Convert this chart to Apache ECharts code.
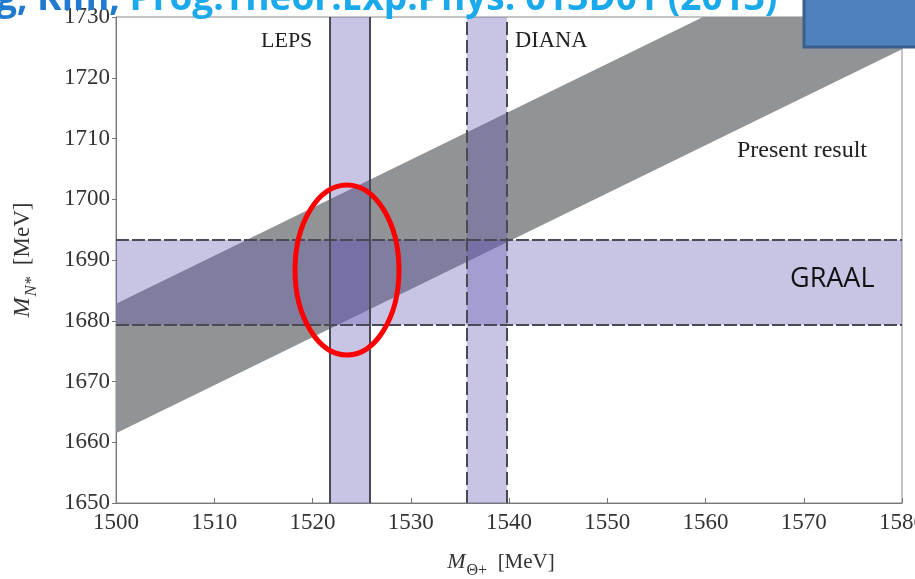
<!DOCTYPE html>
<html>
<head>
<meta charset="utf-8" />
<title>Theta+ vs N* mass</title>
<script src="https://cdn.jsdelivr.net/npm/echarts@6/dist/echarts.min.js"></script>
<style>
  html, body { margin: 0; padding: 0; background: #fff; }
  #main { width: 915px; height: 579px; }
</style>
</head>
<body>
<div id="main"></div>
<script>
// axis ranges (MeV)
var xRange = [1500, 1580];
var yRange = [1650, 1730];
// experimental bands (MeV)
var lepsBand = [1521.8, 1525.8];
var dianaBand = [1535.7, 1539.8];
var graalBand = [1679.3, 1693.3];
// present result: lower / upper edge of the grey band at both ends of the x range
var presentX = [1500, 1580];
var presentLow = [1661.5, 1724.7];
var presentHigh = [1682.8, 1746.0];

var serif = 'Liberation Serif';
var chart = echarts.init(document.getElementById('main'));

// grey band polygon, clipped to the grid
function presentItem(params, api) {
  var pts = [
    api.coord([presentX[0], presentLow[0]]),
    api.coord([presentX[1], presentLow[1]]),
    api.coord([presentX[1], presentHigh[1]]),
    api.coord([presentX[0], presentHigh[0]])
  ];
  var cs = params.coordSys;
  return {
    type: 'group',
    clipPath: { type: 'rect', shape: { x: cs.x, y: cs.y, width: cs.width, height: cs.height } },
    children: [{ type: 'polygon', shape: { points: pts }, style: { fill: 'rgb(145,148,150)' } }]
  };
}

// lavender bands, semi transparent so overlaps darken
function bandItem(params, api) {
  var kind = api.value(0);
  var a = api.value(1), b = api.value(2);
  var p0, p1;
  if (kind === 0) {
    p0 = api.coord([a, yRange[1]]);
    p1 = api.coord([b, yRange[0]]);
  } else {
    p0 = api.coord([xRange[0], b]);
    p1 = api.coord([xRange[1], a]);
  }
  return {
    type: 'rect',
    shape: { x: p0[0], y: p0[1], width: p1[0] - p0[0], height: p1[1] - p0[1] },
    style: { fill: 'rgba(98,87,178,0.35)' }
  };
}

function vLine(x, dashed) {
  return [{ coord: [x, yRange[0]], lineStyle: { type: dashed ? [13, 5] : 'solid' } },
          { coord: [x, yRange[1]] }];
}
function hLine(y) {
  return [{ coord: [xRange[0], y], lineStyle: { type: [13, 3] } }, { coord: [xRange[1], y] }];
}

function plain(v) { return String(v); }

var option = {
  backgroundColor: '#fff',
  animation: false,
  grid: {
    left: 116, right: 13, top: 17, bottom: 76, containLabel: false, outerBoundsMode: 'none',
    show: true, borderColor: '#8a8a8a', borderWidth: 1, backgroundColor: 'transparent'
  },
  xAxis: {
    type: 'value', min: xRange[0], max: xRange[1], interval: 10,
    axisLine: { lineStyle: { color: '#777' } },
    axisTick: { inside: true, length: 5, lineStyle: { color: '#777' } },
    splitLine: { show: false },
    axisLabel: { fontFamily: serif, fontSize: 23, color: '#333', margin: 8, formatter: plain, hideOverlap: false },
    name: '{i|M}{s|Θ+}  [MeV]', nameLocation: 'middle', nameGap: 42,
    nameTextStyle: {
      fontFamily: serif, fontSize: 21, color: '#333', padding: [0, 16, 0, 0],
      rich: {
        i: { fontFamily: serif, fontStyle: 'italic', fontSize: 22, color: '#333' },
        s: { fontFamily: serif, fontSize: 16, color: '#333', padding: [18, 0, 0, 1] }
      }
    }
  },
  yAxis: {
    type: 'value', min: yRange[0], max: yRange[1], interval: 10,
    axisLine: { show: true, lineStyle: { color: '#777' } },
    axisTick: { show: true, length: 4, lineStyle: { color: '#777' } },
    splitLine: { show: false },
    axisLabel: { fontFamily: serif, fontSize: 23, color: '#333', margin: 6, formatter: plain },
    name: '{i|M}{s|N*}  [MeV]', nameLocation: 'middle', nameGap: 76, nameRotate: 90,
    nameTextStyle: {
      fontFamily: serif, fontSize: 23, color: '#333',
      rich: {
        i: { fontFamily: serif, fontStyle: 'italic', fontSize: 24, color: '#333' },
        s: { fontFamily: serif, fontStyle: 'italic', fontSize: 17, color: '#333', padding: [18, 0, 0, 1] }
      }
    }
  },
  series: [
    {
      type: 'custom', renderItem: presentItem, silent: true, data: [[0]], z: 2
    },
    {
      type: 'custom', renderItem: bandItem, silent: true,
      data: [[0, lepsBand[0], lepsBand[1]], [0, dianaBand[0], dianaBand[1]], [1, graalBand[0], graalBand[1]]],
      z: 3
    },
    {
      type: 'line', data: [], silent: true, z: 4,
      markLine: {
        silent: true, symbol: 'none', animation: false,
        label: { show: false },
        lineStyle: { color: '#4a4a55', width: 2, opacity: 1 },
        data: [
          vLine(lepsBand[0], false), vLine(lepsBand[1], false),
          vLine(dianaBand[0], true), vLine(dianaBand[1], true),
          hLine(graalBand[0]), hLine(graalBand[1])
        ]
      }
    }
  ],
  graphic: [
    { type: 'text', left: 261, top: 30, z: 100, style: { text: 'LEPS', font: '22px "Liberation Serif"', fill: '#222' } },
    { type: 'text', left: 515, top: 30, z: 100, style: { text: 'DIANA', font: '22.5px "Liberation Serif"', fill: '#222' } },
    { type: 'text', left: 737, top: 139, z: 100, style: { text: 'Present result', font: '24px "Liberation Serif"', fill: '#222' } },
    { type: 'text', left: 790, top: 266, z: 100, style: { text: 'GRAAL', font: '27px "Open Sans"', fill: '#111' } },
    {
      type: 'ellipse', shape: { cx: 347, cy: 270, rx: 52, ry: 85 }, z: 100,
      style: { fill: 'none', stroke: '#ff0000', lineWidth: 5 }
    },
    {
      type: 'rect', shape: { x: 804, y: -10, width: 130, height: 57 }, z: 100,
      style: { fill: '#4f81bd', stroke: '#3a5f8c', lineWidth: 3 }
    },
    {
      type: 'text', x: -4, y: 18, z: 100,
      style: {
        text: '{a|g, Kim, }{b|Prog.Theor.Exp.Phys. 013D01 (2013)}',
        verticalAlign: 'bottom',
        rich: {
          a: { font: 'bold 37px "Open Sans"', fill: '#1f7ad0' },
          b: { font: 'bold 37px "Open Sans"', fill: '#1aaaeb' }
        }
      }
    }
  ]
};
chart.setOption(option);
</script>
</body>
</html>
